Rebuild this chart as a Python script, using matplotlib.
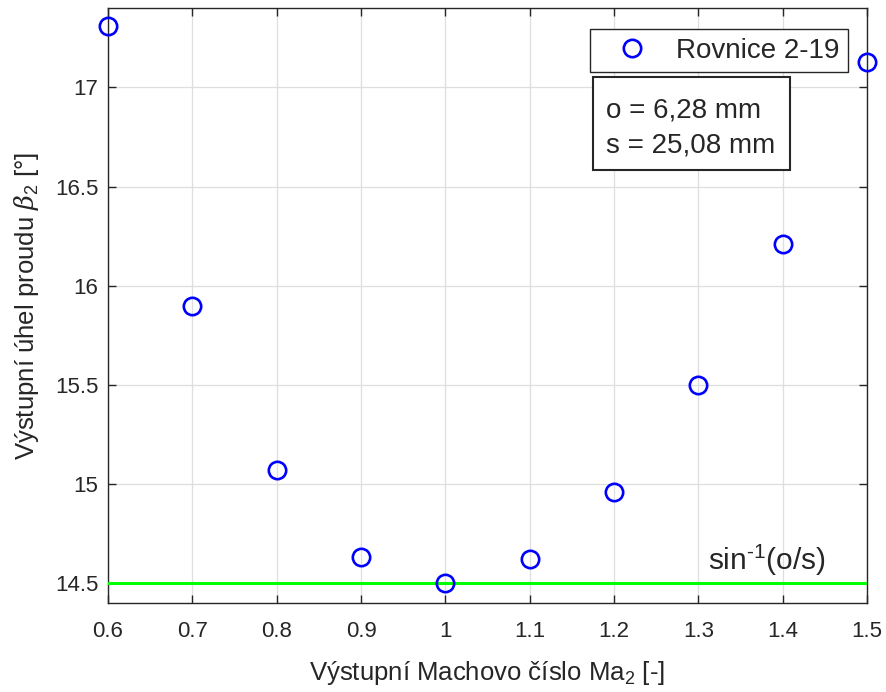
import numpy as np
import matplotlib
matplotlib.use("Agg")
import matplotlib.pyplot as plt
from matplotlib.patches import Rectangle
from matplotlib.ticker import FuncFormatter

plt.rcParams['font.family'] = ['Liberation Sans', 'DejaVu Sans']
plt.rcParams['mathtext.fontset'] = 'custom'
plt.rcParams['mathtext.rm'] = 'Liberation Sans'
plt.rcParams['mathtext.it'] = 'DejaVu Serif:italic'

# exit Mach number vs exit flow angle (equation 2-19)
mach = [0.6, 0.7, 0.8, 0.9, 1.0, 1.1, 1.2, 1.3, 1.4, 1.5]
beta2 = [17.31, 15.90, 15.07, 14.63, 14.50, 14.62, 14.96, 15.50, 16.21, 17.13]

# throat opening and pitch [mm]
o = 6.28
s = 25.08
beta_sin = np.degrees(np.arcsin(o / s))

dark = '#262626'

fig = plt.figure(figsize=(8.87, 6.92), dpi=100)
ax = fig.add_axes([0.1218, 0.1286, 0.8557, 0.8598])

ax.plot(mach, beta2, 'o', mfc='none', mec=(0, 0, 1), ms=12.5, mew=1.9,
        label='Rovnice 2-19', clip_on=False, zorder=5)
ax.axhline(beta_sin, color=(0, 1, 0), lw=2.2, zorder=4)

ax.set_xlim(0.6, 1.5)
ax.set_ylim(14.4, 17.4)
ax.set_xticks(np.arange(0.6, 1.51, 0.1))
ax.set_yticks(np.arange(14.5, 17.01, 0.5))
fmt = FuncFormatter(lambda v, p: '%g' % round(v, 2))
ax.xaxis.set_major_formatter(fmt)
ax.yaxis.set_major_formatter(fmt)

ax.grid(True, color='#dedede', lw=0.9)
ax.set_axisbelow(True)
ax.tick_params(direction='in', top=True, right=True, length=6, width=1,
               colors=dark, labelsize=16)
ax.tick_params(axis='x', pad=13)
ax.tick_params(axis='y', pad=7)
for sp in ax.spines.values():
    sp.set_color(dark)
    sp.set_linewidth(1)

ax.set_xlabel('Výstupní Machovo číslo Ma$_2$ [-]', fontsize=18.5, color=dark, labelpad=12)
ax.set_ylabel(r'Výstupní úhel proudu $\beta_{\mathrm{2}}$ [°]', fontsize=18.5, color=dark,
              labelpad=10)

leg = ax.legend(loc='upper right', bbox_to_anchor=(0.975, 0.9647), fontsize=20,
                fancybox=False, framealpha=1, edgecolor=dark, handletextpad=0.36,
                borderpad=0.31, handlelength=2.43, borderaxespad=0)
leg.get_frame().set_linewidth(1)
for t in leg.get_texts():
    t.set_color(dark)

# geometry box
ax.add_patch(Rectangle((0.639, 0.7277), 0.2596, 0.1563, transform=ax.transAxes,
                       fc='white', ec=dark, lw=1.5, zorder=6))
o_txt = ('%.2f' % o).replace('.', ',')
s_txt = ('%.2f' % s).replace('.', ',')
ax.text(0.656, 0.8168, 'o = %s mm' % o_txt, transform=ax.transAxes,
        fontsize=20, color=dark, va='baseline', zorder=7)
ax.text(0.656, 0.758, 's = %s mm' % s_txt, transform=ax.transAxes,
        fontsize=20, color=dark, va='baseline', zorder=7)

ax.text(1.312, 14.566, r'sin$^{\text{-1}}$(o/s)', fontsize=21.5, color=dark,
        ha='left', va='baseline')

fig.savefig('out.png', dpi=100)
